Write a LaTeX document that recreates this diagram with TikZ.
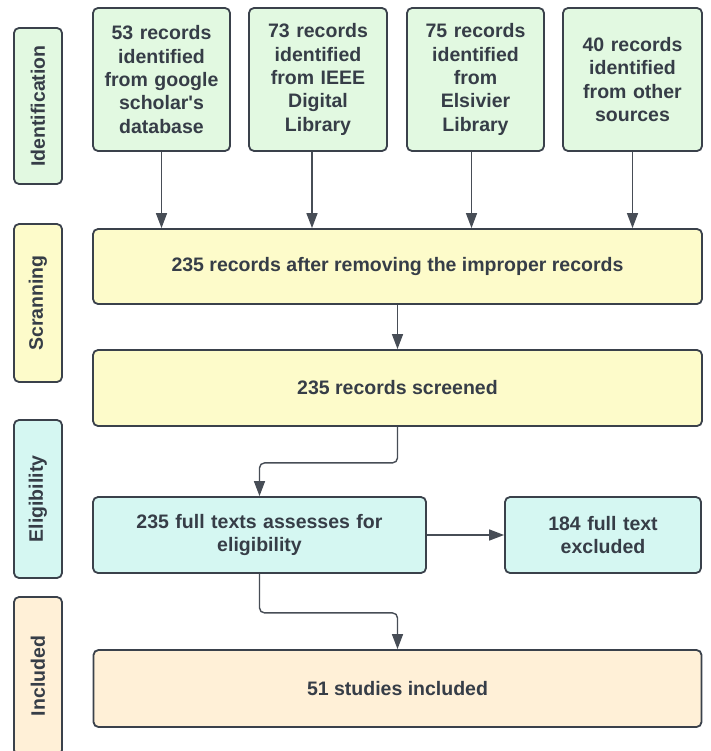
\documentclass[tikz,border=0pt]{standalone}
\usepackage{fontspec}
\setmainfont{Liberation Sans}
\usetikzlibrary{arrows.meta}
\definecolor{gfill}{HTML}{E2F9E1}
\definecolor{yfill}{HTML}{FDFBCA}
\definecolor{cfill}{HTML}{D5F7F2}
\definecolor{pfill}{HTML}{FFF0D7}
\definecolor{bord}{HTML}{3A414B}
\definecolor{txt}{HTML}{363D47}
\definecolor{arr}{HTML}{474D56}
\tikzset{
  box/.style={draw=bord, line width=1.8pt, rounded corners=5pt, inner sep=0pt,
    font=\fontsize{19.5}{23.3}\selectfont\bfseries, text=txt, align=center},
  side/.style={box, rotate=90, minimum width=158pt, minimum height=48pt},
  conn/.style={draw=arr, line width=1.4pt, rounded corners=5pt, -{Triangle[width=11pt,length=15pt]}}
}
\begin{document}
\begin{tikzpicture}[x=1pt,y=-1pt]
\clip (0,0) rectangle (710,751);
\useasboundingbox (0,0) rectangle (710,751);
\fill[white] (0,0) rectangle (710,751);
% side labels
\node[side, fill=gfill, minimum width=156pt] (sid) at (38,106) {Identification};
\node[side, fill=yfill] (ssc) at (38,303) {Scranning};
\node[side, fill=cfill] (sel) at (38,499) {Eligibility};
\node[side, fill=pfill] (sin) at (38,676) {Included};
% top boxes
\node[box, fill=gfill, minimum width=137pt, minimum height=143pt, text width=130pt] (b1) at (161.5,79.5) {53 records\\identified\\from google\\scholar\textquotesingle s\\database};
\node[box, fill=gfill, minimum width=138pt, minimum height=143pt, text width=130pt] (b2) at (318,79.5) {73 records\\identified\\from IEEE\\Digital\\Library};
\node[box, fill=gfill, minimum width=137pt, minimum height=143pt, text width=130pt] (b3) at (475.5,79.5) {75 records\\identified\\from\\Elsivier\\Library};
\node[box, fill=gfill, minimum width=139pt, minimum height=143pt, text width=130pt] (b4) at (632.5,79.5) {40 records\\identified\\from other\\sources};
% main flow
\node[box, fill=yfill, minimum width=609pt, minimum height=75pt] (y1) at (397.5,266.5) {235 records after removing the improper records};
\node[box, fill=yfill, minimum width=609pt, minimum height=76pt] (y2) at (397.5,388) {235 records screened};
\node[box, fill=cfill, minimum width=333pt, minimum height=76pt, text width=320pt] (e1) at (259.5,535) {235 full texts assesses for\\eligibility};
\node[box, fill=cfill, minimum width=196pt, minimum height=76pt, text width=185pt] (e2) at (603,535) {184 full text\\excluded};
\node[box, fill=pfill, minimum width=608pt, minimum height=77pt] (inc) at (397.5,688.5) {51 studies included};
% connectors
\draw[conn] (b1.south) -- (b1.south |- y1.north);
\draw[conn] ([xshift=-6pt]b2.south) -- ([xshift=-6pt]b2.south |- y1.north);
\draw[conn] ([xshift=-4pt]b3.south) -- ([xshift=-4pt]b3.south |- y1.north);
\draw[conn] (b4.south) -- (b4.south |- y1.north);
\draw[conn] (y1.south) -- (y2.north);
\draw[conn] (y2.south) -- ++(0,36) -| (e1.north);
\draw[conn] (e1.east) -- (e2.west);
\draw[conn] (e1.south) -- ++(0,39) -| (inc.north);
\end{tikzpicture}
\end{document}
